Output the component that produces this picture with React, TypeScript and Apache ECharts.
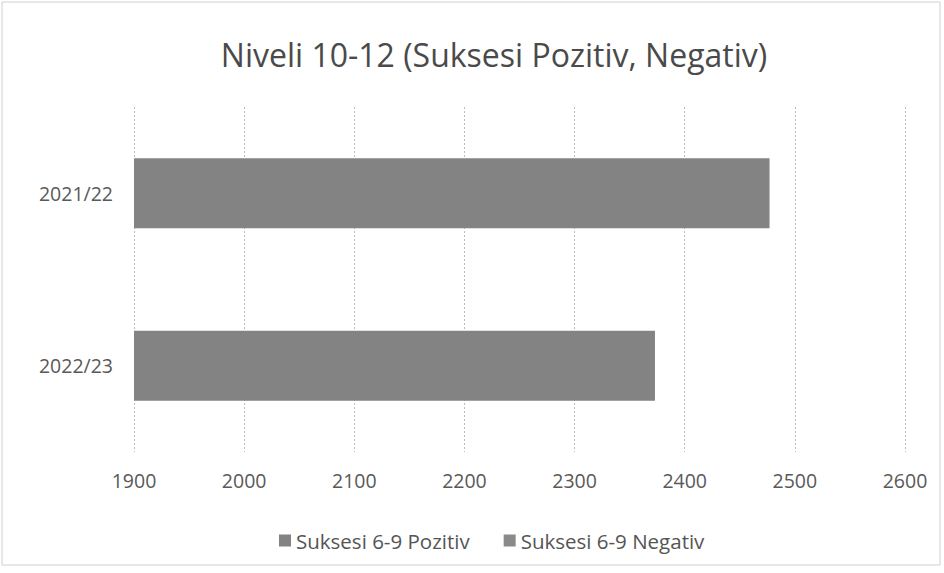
import React, { useEffect, useRef } from "react";
import * as echarts from "echarts";

const categories = ["2021/22", "2022/23"];
const pozitivValues = [2477, 2373];
const negativValues: (number | null)[] = [null, null];
const seriesNames = ["Suksesi 6-9 Pozitiv", "Suksesi 6-9 Negativ"];
const titleText = "Niveli 10-12 (Suksesi Pozitiv, Negativ)";

export default function App() {
  const ref = useRef<HTMLDivElement>(null);
  useEffect(() => {
    if (!ref.current) return;
    const chart = echarts.init(ref.current, null, { renderer: "svg" });
    const font = "'Open Sans', 'Noto Sans', sans-serif";
    chart.setOption({
      animation: false,
      backgroundColor: "#ffffff",
      textStyle: { fontFamily: font },
      title: {
        text: titleText,
        left: 489,
        textAlign: "center",
        top: 33,
        textStyle: { fontFamily: font, fontSize: 32, fontWeight: "normal", color: "#4a4a4a" },
      },
      graphic: [
        {
          type: "rect",
          shape: { x: 2, y: 2, width: 938, height: 563 },
          style: { fill: "none", stroke: "#d0d0d0", lineWidth: 1 },
          silent: true,
        },
      ],
      legend: {
        left: 274,
        top: 525,
        itemWidth: 12,
        itemHeight: 12,
        itemGap: 34,
        icon: "rect",
        textStyle: { fontFamily: font, fontSize: 20.5, color: "#555555" },
        data: seriesNames,
      },
      grid: { left: 134, right: 39, top: 107, bottom: 121, containLabel: false },
      xAxis: {
        type: "value",
        min: 1900,
        max: 2600,
        interval: 100,
        axisLine: { show: false },
        axisTick: { show: false },
        splitLine: { show: true, lineStyle: { color: "#bdbdbd", type: [2, 2], width: 1 } },
        axisLabel: {
          fontFamily: font,
          fontSize: 19.5,
          color: "#595959",
          margin: 18,
          formatter: (v: number) => String(v),
        },
      },
      yAxis: {
        type: "category",
        inverse: true,
        data: categories,
        axisLine: { show: false },
        axisTick: { show: false },
        splitLine: { show: false },
        axisLabel: { fontFamily: font, fontSize: 19.5, color: "#595959", margin: 21 },
      },
      series: [
        {
          name: seriesNames[0],
          type: "bar",
          data: pozitivValues,
          barWidth: 70,
          itemStyle: { color: "#838383" },
        },
        {
          name: seriesNames[1],
          type: "bar",
          data: negativValues,
          barWidth: 70,
          barGap: "-100%",
          itemStyle: { color: "#8a8a8a" },
        },
      ],
    });
    return () => chart.dispose();
  }, []);
  return (
    <div
      ref={ref}
      style={{ position: "absolute", left: 0, top: 0, width: 944, height: 573, background: "#fff" }}
    />
  );
}
